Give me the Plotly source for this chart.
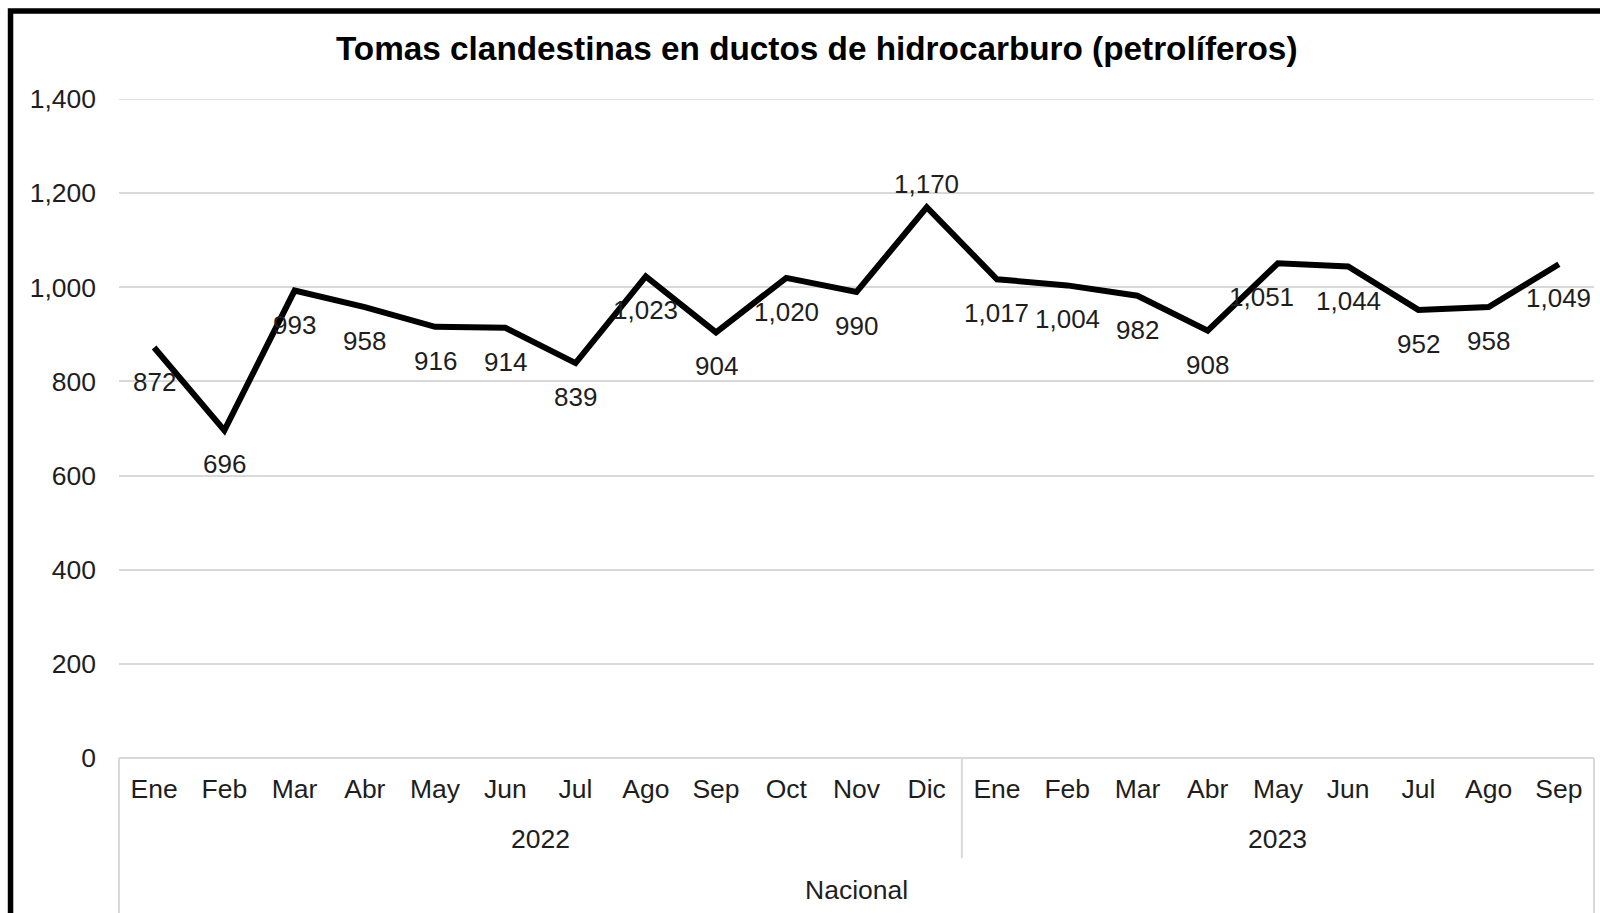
import plotly.graph_objects as go

# ---- data ----
months = ["Ene", "Feb", "Mar", "Abr", "May", "Jun", "Jul", "Ago", "Sep", "Oct", "Nov", "Dic",
          "Ene", "Feb", "Mar", "Abr", "May", "Jun", "Jul", "Ago", "Sep"]
years = ["2022"] * 12 + ["2023"] * 9
values = [872, 696, 993, 958, 916, 914, 839, 1023, 904, 1020, 990, 1170,
          1017, 1004, 982, 908, 1051, 1044, 952, 958, 1049]
year_labels = ["2022", "2023"]
group_label = "Nacional"
title_text = "Tomas clandestinas en ductos de hidrocarburo (petrolíferos)"
y_ticks = [0, 200, 400, 600, 800, 1000, 1200, 1400]

# ---- layout constants (pixels) ----
W, H = 1600, 913
PL, PR, PT, PB = 119, 1594.4, 99, 758  # plot area edges
pw, ph = PR - PL, PB - PT
FONT = "Liberation Sans, Arial, sans-serif"
TXT = "#1e1e1e"
GRID = "#d9d9d9"


def px_x(px):  # pixel -> paper x
    return (px - PL) / pw


def px_y(py):  # pixel -> paper y
    return (PB - py) / ph


cats = [f"{y}-{m}" for y, m in zip(years, months)]

fig = go.Figure()
fig.add_trace(go.Scatter(
    x=cats, y=values, mode="lines",
    line=dict(color="black", width=6),
    hoverinfo="x+y", showlegend=False,
))

# data labels
label_side = ["below"] * len(values)
label_side[values.index(max(values))] = "above"
label_xshift = [0] * len(values)
label_xshift[16] = -16
annotations = []
for i, (c, v) in enumerate(zip(cats, values)):
    annotations.append(dict(
        x=c, y=v, xref="x", yref="y", text=f"{v:,}", showarrow=False,
        yshift=(23 if label_side[i] == "above" else -34), xshift=label_xshift[i],
        xanchor="center", yanchor="middle",
        font=dict(family=FONT, size=26, color=TXT),
    ))

# title
annotations.append(dict(
    x=px_x(817), y=px_y(48), xref="paper", yref="paper", text=f"<b>{title_text}</b>",
    showarrow=False, xanchor="center", yanchor="middle",
    font=dict(family=FONT, size=33.3, color="black"),
))

# year labels (centered on their groups)
groups = {}
for i, y in enumerate(years):
    groups.setdefault(y, []).append(i)
for yl in year_labels:
    idx = groups[yl]
    annotations.append(dict(
        x=(idx[0] + idx[-1]) / 2, y=px_y(839), xref="x", yref="paper", text=yl,
        showarrow=False, xanchor="center", yanchor="middle",
        font=dict(family=FONT, size=26.5, color=TXT),
    ))
annotations.append(dict(
    x=0.5, y=px_y(890), xref="paper", yref="paper", text=group_label,
    showarrow=False, xanchor="center", yanchor="middle",
    font=dict(family=FONT, size=26.5, color=TXT),
))

shapes = []
# category box lines
shapes.append(dict(type="line", xref="paper", yref="paper", x0=0, x1=1, y0=0, y1=0,
                   line=dict(color=GRID, width=2)))
shapes.append(dict(type="line", xref="paper", yref="paper", x0=0, x1=0, y0=0, y1=px_y(930),
                   line=dict(color=GRID, width=2)))
shapes.append(dict(type="line", xref="paper", yref="paper", x0=1, x1=1, y0=0, y1=px_y(930),
                   line=dict(color=GRID, width=2)))
split = len(groups[year_labels[0]]) - 0.5
shapes.append(dict(type="line", xref="x", yref="paper", x0=split, x1=split, y0=0, y1=px_y(858),
                   line=dict(color=GRID, width=2)))
# top gridline (at range edge)
shapes.append(dict(type="line", xref="paper", yref="y", x0=0, x1=1, y0=y_ticks[-1], y1=y_ticks[-1],
                   line=dict(color=GRID, width=1.5), layer="below"))
# outer black border (extends past right/bottom edge)
shapes.append(dict(type="rect", xref="paper", yref="paper",
                   x0=px_x(10.5), x1=px_x(1640), y0=px_y(950), y1=px_y(11),
                   line=dict(color="black", width=5.5), fillcolor="rgba(0,0,0,0)"))

fig.update_layout(
    width=W, height=H,
    margin=dict(l=PL, r=W - PR, t=PT, b=H - PB),
    paper_bgcolor="white", plot_bgcolor="white",
    font=dict(family=FONT, size=26, color=TXT),
    annotations=annotations, shapes=shapes,
    showlegend=False,
)
fig.update_xaxes(
    type="category", tickmode="array", tickvals=cats, ticktext=months,
    range=[-0.5, len(cats) - 0.5], showgrid=False, zeroline=False, showline=False,
    ticks="", ticklabelstandoff=12, tickfont=dict(family=FONT, size=26.5, color=TXT),
)
fig.update_yaxes(
    range=[0, 1400], tickmode="array", tickvals=y_ticks, tickformat=",",
    showgrid=True, gridcolor=GRID, gridwidth=1.5, zeroline=False, showline=False,
    ticks="", ticklabelstandoff=22, tickfont=dict(family=FONT, size=26.5, color=TXT),
)

fig.write_html(
    "out.html",
    config={"displayModeBar": False},
    post_script="document.body.style.margin='0';document.body.style.overflow='hidden';",
)
